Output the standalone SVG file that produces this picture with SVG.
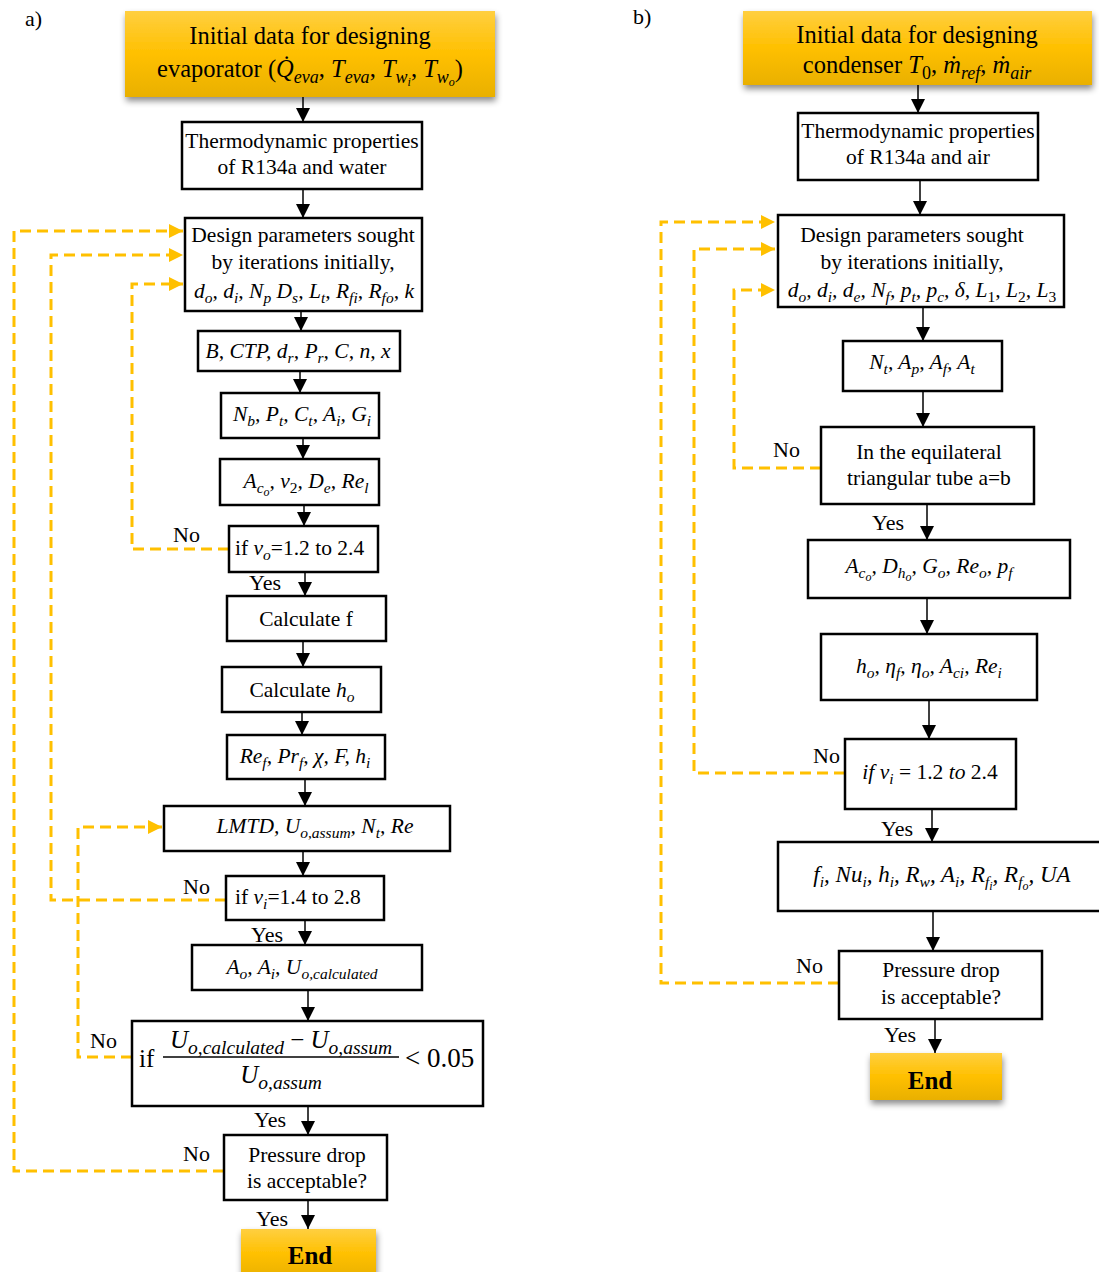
<svg xmlns="http://www.w3.org/2000/svg" width="1099" height="1272" viewBox="0 0 1099 1272">
<style>
.t{font-family:"Liberation Serif",serif;font-size:21.5px;fill:#000}
.m{font-family:"Liberation Serif",serif;font-style:italic;font-size:21.5px;fill:#000}
.u{font-style:normal}
.sb{font-size:15.5px;baseline-shift:-5px}
.sb2{font-size:12px;baseline-shift:-3px}
.h{font-size:24.5px}
.hs{font-size:18px;baseline-shift:-6px}
.fs{font-size:19.5px;baseline-shift:-6px}
.box{fill:#fff;stroke:#000;stroke-width:2.5}
.hdr{fill:url(#gold);filter:url(#sh)}
.con{stroke:#000;stroke-width:1.5;fill:none;marker-end:url(#ah)}
.dash{stroke:#FFC000;stroke-width:3;fill:none;stroke-dasharray:11 6;marker-end:url(#ahy)}
.lbl{font-family:"Liberation Serif",serif;font-size:22px;fill:#000}
.end{font-family:"Liberation Serif",serif;font-size:25px;font-weight:bold;fill:#000}
</style>
<defs>
<linearGradient id="gold" x1="0" y1="0" x2="0" y2="1">
<stop offset="0" stop-color="#FFCF40"/>
<stop offset="0.5" stop-color="#FFC000"/>
<stop offset="1" stop-color="#E9B000"/>
</linearGradient>
<filter id="sh" x="-10%" y="-20%" width="120%" height="150%">
<feDropShadow dx="1" dy="4" stdDeviation="3" flood-color="#000" flood-opacity="0.45"/>
</filter>
<marker id="ah" markerUnits="userSpaceOnUse" markerWidth="14" markerHeight="16" refX="14" refY="7" orient="auto">
<path d="M0,0 L14,7 L0,14 Z" fill="#000"/>
</marker>
<marker id="ahy" markerUnits="userSpaceOnUse" markerWidth="14" markerHeight="16" refX="14" refY="7" orient="auto">
<path d="M0,0 L14,7 L0,14 Z" fill="#FFC000"/>
</marker>
</defs>

<text class="lbl" x="25" y="26">a)</text>
<text class="lbl" x="633" y="24">b)</text>

<g id="connectors">
<line class="con" x1="303" y1="97" x2="303" y2="122"/>
<line class="con" x1="303" y1="189" x2="303" y2="218"/>
<line class="con" x1="301" y1="311" x2="301" y2="331"/>
<line class="con" x1="300" y1="371" x2="300" y2="393"/>
<line class="con" x1="303" y1="438" x2="303" y2="459"/>
<line class="con" x1="304" y1="505" x2="304" y2="526"/>
<line class="con" x1="305" y1="572" x2="305" y2="596"/>
<line class="con" x1="303" y1="641" x2="303" y2="667"/>
<line class="con" x1="302" y1="712" x2="302" y2="735"/>
<line class="con" x1="305" y1="779" x2="305" y2="806"/>
<line class="con" x1="303" y1="851" x2="303" y2="876"/>
<line class="con" x1="305" y1="920" x2="305" y2="945"/>
<line class="con" x1="308" y1="990" x2="308" y2="1021"/>
<line class="con" x1="308" y1="1106" x2="308" y2="1135"/>
<line class="con" x1="308" y1="1200" x2="308" y2="1229"/>
<polyline class="dash" points="224,1171 14,1171 14,231 183,231"/>
<polyline class="dash" points="226,900 51,900 51,255 183,255"/>
<polyline class="dash" points="229,549 132,549 132,284 183,284"/>
<polyline class="dash" points="132,1057 78,1057 78,827 162,827"/>
<line class="con" x1="918" y1="85" x2="918" y2="113"/>
<line class="con" x1="920" y1="180" x2="920" y2="215"/>
<line class="con" x1="923" y1="307" x2="923" y2="341"/>
<line class="con" x1="923" y1="391" x2="923" y2="427"/>
<line class="con" x1="927" y1="504" x2="927" y2="540"/>
<line class="con" x1="927" y1="598" x2="927" y2="634"/>
<line class="con" x1="929" y1="700" x2="929" y2="739"/>
<line class="con" x1="932" y1="809" x2="932" y2="842"/>
<line class="con" x1="933" y1="911" x2="933" y2="951"/>
<line class="con" x1="935" y1="1019" x2="935" y2="1053"/>
<polyline class="dash" points="839,983 661,983 661,222 775,222"/>
<polyline class="dash" points="845,773 694,773 694,249 775,249"/>
<polyline class="dash" points="821,468 734,468 734,290 775,290"/>
<text class="lbl" x="173" y="542">No</text>
<text class="lbl" x="249" y="590">Yes</text>
<text class="lbl" x="183" y="894">No</text>
<text class="lbl" x="251" y="942">Yes</text>
<text class="lbl" x="90" y="1048">No</text>
<text class="lbl" x="254" y="1127">Yes</text>
<text class="lbl" x="183" y="1161">No</text>
<text class="lbl" x="256" y="1226">Yes</text>
<text class="lbl" x="773" y="457">No</text>
<text class="lbl" x="872" y="530">Yes</text>
<text class="lbl" x="813" y="763">No</text>
<text class="lbl" x="881" y="836">Yes</text>
<text class="lbl" x="796" y="973">No</text>
<text class="lbl" x="884" y="1042">Yes</text>
</g>

<g id="a_start">
<rect class="hdr" x="125" y="11" width="370" height="86"/>
<text class="t h" x="310" y="44" text-anchor="middle">Initial data for designing</text>
<text class="t h" x="310" y="77" text-anchor="middle">evaporator (<tspan class="m h">Q̇<tspan class="hs">eva</tspan><tspan class="u">, </tspan>T<tspan class="hs">eva</tspan><tspan class="u">, </tspan>T<tspan class="hs">w<tspan class="sb2">i</tspan></tspan><tspan class="u">, </tspan>T<tspan class="hs">w<tspan class="sb2">o</tspan></tspan></tspan>)</text>
</g>
<g id="a_thermo">
<rect class="box" x="182" y="122" width="240" height="67"/>
<text class="t" x="302" y="148" text-anchor="middle">Thermodynamic properties</text>
<text class="t" x="302" y="174" text-anchor="middle">of R134a and water</text>
</g>
<g id="a_design">
<rect class="box" x="185" y="218" width="237" height="93"/>
<text class="t" x="303" y="242" text-anchor="middle">Design parameters sought</text>
<text class="t" x="303" y="269" text-anchor="middle">by iterations initially,</text>
<text class="m" x="304" y="298" text-anchor="middle">d<tspan class="sb">o</tspan>, d<tspan class="sb">i</tspan>, N<tspan class="sb">p</tspan> D<tspan class="sb">s</tspan>, L<tspan class="sb">t</tspan>, R<tspan class="sb">fi</tspan>, R<tspan class="sb">fo</tspan>, k</text>
</g>
<g id="a_b">
<rect class="box" x="198" y="331" width="202" height="40"/>
<text class="m" x="298" y="358" text-anchor="middle">B, CTP, d<tspan class="sb">r</tspan>, P<tspan class="sb">r</tspan>, C, n, x</text>
</g>
<g id="a_nb">
<rect class="box" x="221" y="393" width="158" height="45"/>
<text class="m" x="302" y="421" text-anchor="middle">N<tspan class="sb">b</tspan>, P<tspan class="sb">t</tspan>, C<tspan class="sb">t</tspan>, A<tspan class="sb">i</tspan>, G<tspan class="sb">i</tspan></text>
</g>
<g id="a_aco">
<rect class="box" x="220" y="459" width="159" height="46"/>
<text class="m" x="306" y="488" text-anchor="middle">A<tspan class="sb">c<tspan class="sb2">o</tspan></tspan>, v<tspan class="sb u">2</tspan>, D<tspan class="sb">e</tspan>, Re<tspan class="sb">l</tspan></text>
</g>
<g id="a_vo">
<rect class="box" x="229" y="526" width="149" height="46"/>
<text class="t" x="235" y="555">if  <tspan class="m">v<tspan class="sb">o</tspan></tspan>=1.2 to 2.4</text>
</g>
<g id="a_f">
<rect class="box" x="227" y="596" width="159" height="45"/>
<text class="t" x="306" y="626" text-anchor="middle">Calculate f</text>
</g>
<g id="a_ho">
<rect class="box" x="222" y="667" width="159" height="45"/>
<text class="t" x="302" y="697" text-anchor="middle">Calculate <tspan class="m">h<tspan class="sb">o</tspan></tspan></text>
</g>
<g id="a_ref">
<rect class="box" x="227" y="735" width="158" height="44"/>
<text class="m" x="305" y="763" text-anchor="middle">Re<tspan class="sb">f</tspan>, Pr<tspan class="sb">f</tspan>, χ, F, h<tspan class="sb">i</tspan></text>
</g>
<g id="a_lmtd">
<rect class="box" x="164" y="806" width="286" height="45"/>
<text class="m" x="315" y="833" text-anchor="middle">LMTD, U<tspan class="sb">o,assum</tspan>, N<tspan class="sb">t</tspan>, Re</text>
</g>
<g id="a_vi">
<rect class="box" x="226" y="876" width="158" height="44"/>
<text class="t" x="235" y="904">if  <tspan class="m">v<tspan class="sb">i</tspan></tspan>=1.4 to 2.8</text>
</g>
<g id="a_ao">
<rect class="box" x="192" y="945" width="230" height="45"/>
<text class="m" x="302" y="974" text-anchor="middle">A<tspan class="sb">o</tspan>, A<tspan class="sb">i</tspan>, U<tspan class="sb">o,calculated</tspan></text>
</g>
<g id="a_frac">
<rect class="box" x="132" y="1021" width="351" height="85"/>
<text class="t" x="139" y="1067" style="font-size:25px">if</text>
<text class="m" x="281" y="1048" text-anchor="middle" style="font-size:25px">U<tspan class="fs">o,calculated</tspan><tspan class="u"> − </tspan>U<tspan class="fs">o,assum</tspan></text>
<line x1="163" y1="1057" x2="399" y2="1057" stroke="#000" stroke-width="1.5"/>
<text class="m" x="281" y="1083" text-anchor="middle" style="font-size:25px">U<tspan class="fs">o,assum</tspan></text>
<text class="t" x="405" y="1067" style="font-size:27px">&lt; 0.05</text>
</g>
<g id="a_pd">
<rect class="box" x="224" y="1135" width="163" height="65"/>
<text class="t" x="307" y="1162" text-anchor="middle">Pressure drop</text>
<text class="t" x="307" y="1188" text-anchor="middle">is acceptable?</text>
</g>
<g id="a_end">
<rect class="hdr" x="241" y="1229" width="135" height="50"/>
<text class="end" x="310" y="1264" text-anchor="middle">End</text>
</g>

<g id="b_start">
<rect class="hdr" x="743" y="11" width="349" height="74"/>
<text class="t h" x="917" y="43" text-anchor="middle">Initial data for designing</text>
<text class="t h" x="917" y="73" text-anchor="middle">condenser <tspan class="m h">T<tspan class="hs u">0</tspan><tspan class="u">, </tspan>ṁ<tspan class="hs">ref</tspan><tspan class="u">, </tspan>ṁ<tspan class="hs">air</tspan></tspan></text>
</g>
<g id="b_thermo">
<rect class="box" x="798" y="113" width="240" height="67"/>
<text class="t" x="918" y="138" text-anchor="middle">Thermodynamic properties</text>
<text class="t" x="918" y="164" text-anchor="middle">of R134a and air</text>
</g>
<g id="b_design">
<rect class="box" x="778" y="215" width="286" height="92"/>
<text class="t" x="912" y="242" text-anchor="middle">Design parameters sought</text>
<text class="t" x="912" y="269" text-anchor="middle">by iterations initially,</text>
<text class="m" x="922" y="297" text-anchor="middle">d<tspan class="sb">o</tspan>, d<tspan class="sb">i</tspan>, d<tspan class="sb">e</tspan>, N<tspan class="sb">f</tspan>, p<tspan class="sb">t</tspan>, p<tspan class="sb">c</tspan>, δ, L<tspan class="sb u">1</tspan>, L<tspan class="sb u">2</tspan>, L<tspan class="sb u">3</tspan></text>
</g>
<g id="b_nt">
<rect class="box" x="843" y="341" width="159" height="50"/>
<text class="m" x="922" y="369" text-anchor="middle">N<tspan class="sb">t</tspan>, A<tspan class="sb">p</tspan>, A<tspan class="sb">f</tspan>, A<tspan class="sb">t</tspan></text>
</g>
<g id="b_tri">
<rect class="box" x="821" y="427" width="213" height="77"/>
<text class="t" x="929" y="459" text-anchor="middle">In the equilateral</text>
<text class="t" x="929" y="485" text-anchor="middle">triangular tube a=b</text>
</g>
<g id="b_aco">
<rect class="box" x="808" y="540" width="262" height="58"/>
<text class="m" x="929" y="573" text-anchor="middle">A<tspan class="sb">c<tspan class="sb2">o</tspan></tspan>, D<tspan class="sb">h<tspan class="sb2">o</tspan></tspan>, G<tspan class="sb">o</tspan>, Re<tspan class="sb">o</tspan>, p<tspan class="sb">f</tspan></text>
</g>
<g id="b_ho">
<rect class="box" x="821" y="634" width="216" height="66"/>
<text class="m" x="929" y="673" text-anchor="middle">h<tspan class="sb">o</tspan>, η<tspan class="sb">f</tspan>, η<tspan class="sb">o</tspan>, A<tspan class="sb">ci</tspan>, Re<tspan class="sb">i</tspan></text>
</g>
<g id="b_vi">
<rect class="box" x="845" y="739" width="171" height="70"/>
<text class="m" x="930" y="779" text-anchor="middle">if v<tspan class="sb">i</tspan><tspan class="u"> = 1.2 </tspan>to<tspan class="u"> 2.4</tspan></text>
</g>
<g id="b_fi">
<rect class="box" x="778" y="842" width="330" height="69"/>
<text class="m" x="942" y="882" text-anchor="middle" style="font-size:23px">f<tspan class="sb">i</tspan>, Nu<tspan class="sb">i</tspan>, h<tspan class="sb">i</tspan>, R<tspan class="sb">w</tspan>, A<tspan class="sb">i</tspan>, R<tspan class="sb">f<tspan class="sb2">i</tspan></tspan>, R<tspan class="sb">f<tspan class="sb2">o</tspan></tspan>, UA</text>
</g>
<g id="b_pd">
<rect class="box" x="839" y="951" width="203" height="68"/>
<text class="t" x="941" y="977" text-anchor="middle">Pressure drop</text>
<text class="t" x="941" y="1004" text-anchor="middle">is acceptable?</text>
</g>
<g id="b_end">
<rect class="hdr" x="870" y="1053" width="132" height="47"/>
<text class="end" x="930" y="1089" text-anchor="middle">End</text>
</g>
</svg>
